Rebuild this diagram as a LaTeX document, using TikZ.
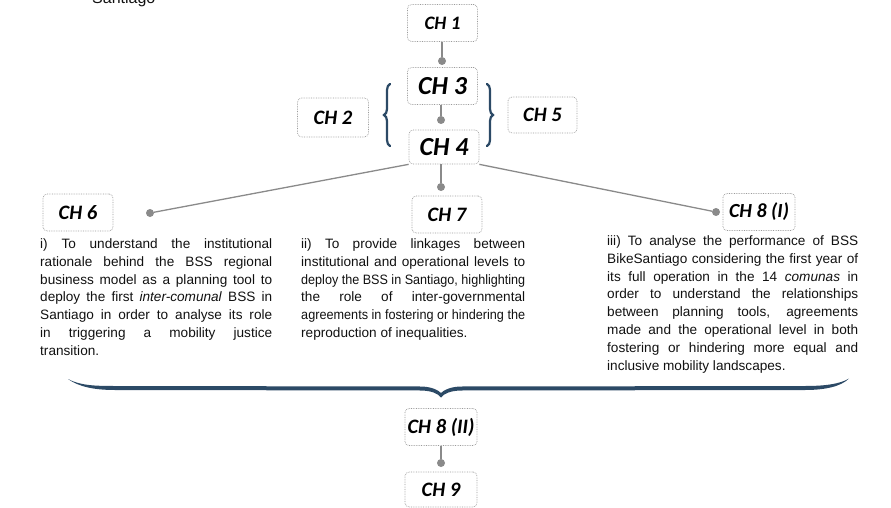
\documentclass[tikz,border=0pt]{standalone}
\usepackage{fontspec}
\setmainfont{Liberation Sans}
\newfontfamily\chfont{Carlito}[BoldItalicFont={* Bold Italic}]
\usetikzlibrary{decorations.pathreplacing}

\definecolor{boxline}{HTML}{9A9A9A}
\definecolor{linkgray}{HTML}{8A8A8A}
\definecolor{bracecol}{HTML}{2C4A66}
\definecolor{textcol}{HTML}{111111}

% one justified line of a paragraph: spaces stretched to the width,
% or the line squeezed horizontally when it is too long
\newlength\linenat
\newcommand\jline[2]{%
  \settowidth\linenat{#2}%
  \ifdim\linenat>#1\relax\resizebox{#1}{\height}{#2}\else\makebox[#1][s]{#2}\fi}
\newcommand\jlast[2]{\makebox[#1][l]{#2}}

\tikzset{
  chbox/.style={draw=boxline, densely dotted, line width=0.7pt, rounded corners=4pt,
    fill=white, minimum width=70pt, minimum height=37pt, inner sep=0pt,
    text=black, font=\chfont\bfseries\itshape\fontsize{#1}{#1}\selectfont},
  chbox/.default=20,
  link/.style={draw=linkgray, line width=1.3pt},
  dot/.style={circle, fill=linkgray, minimum size=8pt, inner sep=0pt},
  aim/.style={anchor=north west, inner sep=0pt, align=left, text=textcol,
    font=\fontsize{13.6}{17.8}\selectfont},
  curly/.style={draw=bracecol, line width=2.2pt, line cap=round,
    decorate, decoration={brace, amplitude=#1}},
}

\begin{document}
\begin{tikzpicture}[x=1pt, y=-1pt]
\useasboundingbox (0,0) rectangle (891,508);
\clip (0,0) rectangle (891,508);

% caption fragment cut by the top edge
\node[anchor=base west, inner sep=0pt, text=textcol, font=\fontsize{16}{16}\selectfont]
  (cap) at (92,4) {Santiago};

% chapter boxes
\node[chbox=19] (ch1) at (442.5,23) {CH 1};
\node[chbox=26] (ch3) at (442.5,86) {CH 3};
\node[chbox=26, minimum height=34pt] (ch4) at (444,147) {CH 4};
\node[chbox=20.5, minimum width=71pt, minimum height=39pt] (ch2) at (333,117.5) {CH 2};
\node[chbox=20.5, minimum width=69pt, minimum height=36pt] (ch5) at (542.5,115) {CH 5};
\node[chbox=20.5] (ch6) at (78,212.5) {CH 6};
\node[chbox=20.5] (ch7) at (447,214.5) {CH 7};
\node[chbox=20, minimum width=72pt] (ch8a) at (759,212) {CH 8 (I)};
\node[chbox=20.5, minimum width=72pt] (ch8b) at (441,427) {CH 8 (II)};
\node[chbox=20.5, minimum width=72pt, minimum height=35pt] (ch9) at (441,489.5) {CH 9};

% connector ends
\node[dot] (d13) at (442,61) {};
\node[dot] (d34) at (441,120) {};
\node[dot] (d47) at (441,187) {};
\node[dot] (d46) at (150,213) {};
\node[dot] (d48) at (716,212) {};
\node[dot] (d89) at (441,463) {};

\draw[link] (ch1.south -| d13) -- (d13);
\draw[link] (ch3.south -| d34) -- (d34);
\draw[link] (ch4.south -| d47) -- (d47);
\draw[link] (ch4.south west) -- (d46);
\draw[link] (ch4.south east) -- (d48);
\draw[link] (ch8b.south -| d89) -- (d89);

% braces round chapters 3 and 4
\coordinate (lbt) at (390,84);
\coordinate (lbb) at (390,146);
\coordinate (rbt) at (487,84);
\coordinate (rbb) at (487,146);
\draw[curly=6pt] (lbb) -- (lbt);
\draw[curly=6pt] (rbt) -- (rbb);

% tapered brace gathering the three aims
\fill[bracecol]
  (68,379) .. controls (80,385.5) and (95,386) .. (115,386)
  -- (422,386.5) .. controls (432,387) and (438,390) .. (441,393)
  .. controls (444,390) and (450,387) .. (460,386.5)
  -- (805,386) .. controls (825,386) and (840,384) .. (849,378.5)
  .. controls (841,386.5) and (825,390) .. (805,390)
  -- (460,390.5) .. controls (450,391) and (444,393.5) .. (441,397.5)
  .. controls (438,393.5) and (432,391) .. (422,390.5)
  -- (115,390) .. controls (95,390) and (79,387) .. (68,379) -- cycle;

% the three aims
\node[aim] (aim1) at (40,238.5) {%
  \jline{232pt}{i) To understand the institutional}\\
  \jline{232pt}{rationale behind the BSS regional}\\
  \jline{232pt}{business model as a planning tool to}\\
  \jline{232pt}{deploy the first \textit{inter-comunal} BSS in}\\
  \jline{232pt}{Santiago in order to analyse its role}\\
  \jline{232pt}{in triggering a mobility justice}\\
  \jlast{232pt}{transition.}};

\node[aim] (aim2) at (301,238.5) {%
  \jline{224pt}{ii) To provide linkages between}\\
  \jline{224pt}{institutional and operational levels to}\\
  \jline{224pt}{deploy the BSS in Santiago, highlighting}\\
  \jline{224pt}{the role of inter-governmental}\\
  \jline{224pt}{agreements in fostering or hindering the}\\
  \jlast{224pt}{reproduction of inequalities.}};

\node[aim] (aim3) at (607,235.5) {%
  \jline{251pt}{iii) To analyse the performance of BSS}\\
  \jline{251pt}{BikeSantiago considering the first year of}\\
  \jline{251pt}{its full operation in the 14 \textit{comunas} in}\\
  \jline{251pt}{order to understand the relationships}\\
  \jline{251pt}{between planning tools, agreements}\\
  \jline{251pt}{made and the operational level in both}\\
  \jline{251pt}{fostering or hindering more equal and}\\
  \jlast{251pt}{inclusive mobility landscapes.}};

\end{tikzpicture}
\end{document}
